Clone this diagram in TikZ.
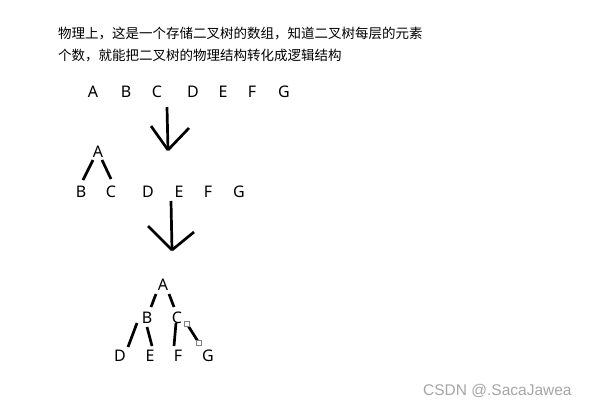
\documentclass[tikz,border=0pt]{standalone}
\usepackage{fontspec}
\setmainfont{Noto Sans}
\newfontfamily\cjk{Noto Sans CJK SC}
\newfontfamily\wmfont{Liberation Sans}
\usetikzlibrary{calc}
\definecolor{wmgray}{HTML}{A6A6A6}
\definecolor{handlegray}{HTML}{808080}
\begin{document}
\begin{tikzpicture}[x=1pt,y=-1pt,
  letter/.style={inner sep=0pt, font=\fontsize{16}{16}\selectfont},
  zh/.style={inner sep=0pt, anchor=west, font=\cjk\fontsize{13.5}{13.5}\selectfont},
  stroke/.style={line width=2.7pt, black},
  handle/.style={draw=handlegray, fill=white, line width=0.6pt, minimum size=4.5pt, inner sep=0pt},
  wm/.style={inner sep=0pt, anchor=west, text=wmgray, font=\wmfont\fontsize{15.5}{15.5}\selectfont}]
\useasboundingbox[fill=white] (0,0) rectangle (599,404);

% heading text
\node[zh] (t1) at (58,34) {物理上，这是一个存储二叉树的数组，知道二叉树每层的元素};
\node[zh] (t2) at (58,56) {个数，就能把二叉树的物理结构转化成逻辑结构};

% row 1: array
\node[letter] (r1A) at (93,92) {A};
\node[letter] (r1B) at (126,92) {B};
\node[letter] (r1C) at (157,92) {C};
\node[letter] (r1D) at (193,92) {D};
\node[letter] (r1E) at (223,92) {E};
\node[letter] (r1F) at (252,92) {F};
\node[letter] (r1G) at (284,92) {G};

% arrow 1
\coordinate (a1top) at (167,107);
\coordinate (a1tip) at (168,150);
\coordinate (a1l) at (151,126);
\coordinate (a1r) at (189,128);
\draw[stroke] (a1top) -- (a1tip);
\draw[stroke] (a1l) -- (a1tip);
\draw[stroke] (a1r) -- (a1tip);

% row 2: partial tree
\node[letter] (sA) at (98,152) {A};
\node[letter] (sB) at (81,192) {B};
\node[letter] (sC) at (111,192) {C};
\node[letter] (sD) at (148,192) {D};
\node[letter] (sE) at (179,192) {E};
\node[letter] (sF) at (208,192) {F};
\node[letter] (sG) at (239,192) {G};
\draw[stroke] ($(sA.center)+(-5,8)$) -- ($(sB.center)+(2,-12)$);
\draw[stroke] ($(sA.center)+(4,8)$) -- ($(sC.center)+(0,-13)$);

% arrow 2
\coordinate (a2top) at (171,201);
\coordinate (a2tip) at (172,250);
\coordinate (a2l) at (148,226);
\coordinate (a2r) at (194,232);
\draw[stroke] (a2top) -- (a2tip);
\draw[stroke] (a2l) -- (a2tip);
\draw[stroke] (a2r) -- (a2tip);

% final tree
\node[letter] (bA) at (163,285) {A};
\node[letter] (bB) at (147,318) {B};
\node[letter] (bC) at (177,318) {C};
\node[letter] (bD) at (120,356) {D};
\node[letter] (bE) at (150,356) {E};
\node[letter] (bF) at (178,356) {F};
\node[letter] (bG) at (208,356) {G};
\draw[stroke] ($(bA.center)+(-7,9)$) -- ($(bB.center)+(4,-11)$);
\draw[stroke] ($(bA.center)+(6,9)$) -- ($(bC.center)+(-3,-11)$);
\draw[stroke] ($(bB.center)+(-10,5)$) -- ($(bD.center)+(8,-9)$);
\draw[stroke] ($(bB.center)+(0,9)$) -- ($(bE.center)+(2,-10)$);
\draw[stroke] ($(bC.center)+(-1,5)$) -- ($(bF.center)+(-4,-10)$);
\coordinate (cgs) at ($(bC.center)+(10,6)$);
\coordinate (cge) at ($(bG.center)+(-9,-13)$);
\draw[stroke] (cgs) -- (cge);
\node[handle] (h1) at (cgs) {};
\node[handle] (h2) at (cge) {};

% watermark
\node[wm] (wm) at (423,391) {CSDN @.SacaJawea};
\end{tikzpicture}
\end{document}
